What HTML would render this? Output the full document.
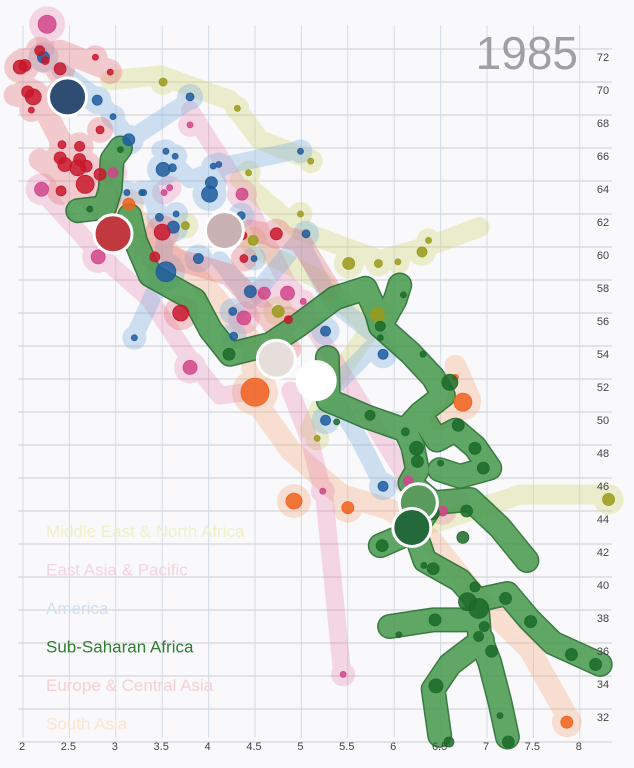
<!DOCTYPE html>
<html><head><meta charset="utf-8">
<style>
html,body{margin:0;padding:0;background:#f9f9fb;}
svg{display:block;font-family:"Liberation Sans",sans-serif;}
</style></head>
<body>
<svg id="chart" width="634" height="768" viewBox="0 0 634 768">
<rect width="634" height="768" fill="#f9f9fb"/>
<g id="grid"></g>
<g id="trails"></g>
<g id="dots"></g>
<g id="big"></g>
<g id="axes"></g>
<g id="legend"></g>
<text x="578" y="69" text-anchor="end" font-size="46" fill="#a0a0a0">1985</text>
</svg>
<script>
const xTicks=[2,2.5,3,3.5,4,4.5,5,5.5,6,6.5,7,7.5,8];
const yTicks=[32,34,36,38,40,42,44,46,48,50,52,54,56,58,60,62,64,66,68,70,72];
const yGrid=[30,32,34,36,38,40,42,44,46,48,50,52,54,56,58,60,62,64,66,68,70,72];
const regionNames=["Middle East & North Africa","East Asia & Pacific","America","Sub-Saharan Africa","Europe & Central Asia","South Asia"];
const regionColors=["#cfd36a","#e57aa6","#86b4dc","#2e8b3a","#e8787e","#f5a877"];
const legendColors=["#eef0c9","#f4d3df","#cddff0","#2e7d32","#f6d0d3","#fce4d0"];
const dotColors=["#9a9a1a","#d1458a","#1f5c9e","#1b6a28","#c8172c","#f0621f"];

const trailME=[[[2.94,70.1],[3.48,70.4],[4.23,68.9],[4.55,66.5],[5.09,65.3]],[[4.34,64.1],[4.98,61.0],[5.85,59.2],[6.39,60.1],[6.92,61.2]],[[4.55,59.8],[5.20,58.0],[5.74,55.0],[5.31,51.6],[5.09,48.9]],[[6.39,43.2],[7.36,45.0],[8.27,45.0]]];
const trailEA=[[[2.24,73.5],[2.24,71.9]],[[2.18,63.5],[2.83,59.5],[3.37,56.8],[3.80,53.2],[4.12,51.0],[4.55,51.3]],[[4.88,51.3],[5.09,48.3],[5.25,44.7],[5.36,38.6],[5.44,34.1]],[[3.80,68.3],[4.34,63.5],[4.88,57.4],[6.28,44.7],[6.71,44.7]]];
const trailAM=[[[2.40,70.7],[2.83,68.9],[3.15,66.5],[3.80,68.9]],[[3.48,65.9],[3.80,64.1],[4.23,65.0],[4.98,65.9]],[[3.37,63.5],[3.53,60.4],[3.48,58.0],[3.21,54.7]],[[4.12,59.2],[4.45,56.8],[4.98,60.4],[5.31,56.8],[5.85,54.4],[5.31,51.3],[5.63,48.3],[5.90,45.3]]];
const trailSSA=[[[2.59,62.2],[2.88,62.4],[2.94,63.5],[2.96,65.3],[3.05,66.0]],
[[3.15,61.9],[3.21,60.4],[3.37,58.3],[3.85,56.8],[4.02,55.0],[4.23,53.5],[4.66,54.1],[4.98,55.3],[5.36,56.9],[5.69,57.5],[5.81,56.0],[5.85,55.2],[6.17,53.6],[6.42,52.1],[6.53,51.0],[6.28,49.9],[6.12,48.9],[6.20,47.9],[6.25,46.5],[6.17,45.7]],
[[5.85,55.2],[6.01,56.8],[6.06,57.7]],
[[6.12,48.9],[5.71,49.7],[5.42,50.4],[5.29,50.7],[5.28,53.3]],
[[6.28,49.9],[6.46,48.3],[6.66,48.9],[6.87,47.9],[7.03,46.6],[6.71,46.1],[6.49,46.5]],
[[6.17,45.7],[6.42,44.5],[6.82,44.7],[7.14,43.0],[7.43,41.0]],
[[6.42,44.5],[6.22,42.8],[5.85,41.9]],
[[6.22,42.8],[6.33,41.0],[6.71,39.8],[6.89,38.6],[6.92,36.4],[7.03,34.8],[7.14,32.4],[7.22,30.3]],
[[6.89,38.6],[7.22,39.0],[7.46,37.4],[7.71,36.0],[8.22,34.7]],
[[6.85,37.4],[6.42,37.4],[5.95,37.0]],
[[6.95,36.2],[6.60,34.7],[6.42,33.2],[6.49,30.4]]];
const trailEU=[[[1.97,71.3],[2.40,71.9],[2.94,70.7]],[[1.91,69.2],[2.18,68.9],[2.40,66.5],[2.78,64.7],[2.94,62.8]],[[2.18,65.3],[2.61,63.5],[3.15,60.4],[3.69,59.2],[4.23,58.3],[4.66,55.6],[4.88,53.8]],[[4.45,61.0],[4.98,60.4],[5.31,57.4]]];
const trailSA=[[[3.10,62.5],[3.37,60.7],[3.91,58.0],[4.45,54.4],[4.50,50.7],[4.88,47.7],[5.42,45.0],[5.95,44.1],[6.39,42.3],[6.92,38.6],[7.46,35.6],[7.87,31.5]],[[6.66,52.8],[6.82,50.7],[6.49,49.5]]];

const dotsME=[[3.51,70.0,4],[4.31,68.4,3],[4.43,64.5,3],[5.10,65.2,3],[3.75,61.3,4],[4.48,60.4,5],[4.75,56.1,6],[4.99,62.0,3],[5.51,59.0,6],[5.83,59.0,4],[6.04,59.1,3],[6.30,59.7,5],[6.37,60.4,3],[8.31,44.7,6],[5.17,48.4,3],[5.82,55.9,7]];
const dotsEA=[[2.26,73.5,9],[2.20,63.5,7],[2.81,59.4,7],[2.97,64.5,5],[4.36,63.2,6],[4.60,57.2,6],[3.80,52.7,7],[5.02,56.7,3],[4.38,55.7,7],[3.52,63.3,3],[3.80,67.4,3],[5.23,45.2,3],[5.45,34.1,3],[4.85,57.2,7],[3.58,63.6,3],[6.52,44.0,5],[6.15,45.8,5]];
const dotsAM=[[2.22,71.5,6],[2.80,68.9,5],[3.14,66.5,6],[2.97,67.9,3],[3.51,64.7,7],[3.54,65.8,3],[3.64,65.5,3],[3.61,64.8,4],[4.05,64.9,3],[4.11,65.0,3],[4.03,63.9,6],[4.01,63.2,8],[3.62,61.2,6],[3.54,58.5,10],[3.89,59.3,5],[4.35,61.9,4],[4.27,54.6,4],[4.45,57.3,6],[4.99,65.8,3],[3.20,54.5,3],[3.80,69.1,4],[3.30,63.3,3],[5.26,54.9,5],[5.88,53.5,5],[5.26,49.5,5],[5.88,45.5,5],[5.05,60.8,4],[4.49,59.3,3],[3.47,61.8,4],[3.65,62.0,3],[3.12,63.3,3],[3.28,63.3,3],[4.26,56.1,4]];
const dotsSSA=[[3.05,65.9,3],[2.72,62.3,3],[4.22,53.5,6],[6.10,57.1,3],[5.85,55.2,5],[5.85,54.5,3],[6.31,53.5,3],[6.60,51.8,8],[5.74,49.8,5],[5.38,49.4,3],[6.12,48.8,4],[6.24,47.8,7],[6.25,47.0,6],[6.50,46.9,3],[6.69,49.2,6],[6.87,47.8,6],[6.96,46.6,6],[6.41,43.9,7],[6.78,44.0,6],[6.74,42.4,6],[5.87,41.9,6],[6.42,40.5,6],[6.32,40.7,3],[6.87,39.4,5],[6.79,38.5,9],[6.91,38.1,10],[7.20,38.7,6],[6.44,37.4,6],[6.05,36.5,3],[6.97,37.0,5],[6.91,36.4,5],[7.05,35.5,6],[7.47,37.3,6],[7.91,35.3,6],[8.17,34.7,6],[6.45,33.4,7],[7.14,31.6,3],[7.23,30.0,6],[6.59,30.0,5]];
const dotsEU=[[1.97,70.9,7],[2.18,71.9,5],[2.11,69.1,8],[2.05,69.4,6],[2.40,70.8,6],[2.38,69.2,5],[2.40,65.4,6],[2.45,65.0,7],[2.61,65.3,6],[2.59,64.8,8],[2.68,64.9,6],[2.67,63.8,9],[2.83,64.4,6],[2.83,67.1,4],[2.78,71.5,3],[2.94,70.6,3],[2.61,66.1,5],[2.41,63.4,5],[2.24,71.3,4],[2.02,71.0,6],[3.50,60.9,8],[3.70,56.0,8],[3.42,59.4,5],[4.37,60.7,4],[4.73,60.8,6],[4.38,59.3,4],[4.86,55.6,4],[2.42,66.2,4],[2.09,68.3,3]];
const dotsSA=[[3.14,62.6,6],[4.50,51.2,14],[4.92,44.6,8],[5.50,44.2,6],[6.74,50.6,9],[6.66,52.1,3],[7.86,31.2,6]];
const bigX=[2.48,2.97,4.17,4.73,5.16,6.26,6.19];
const bigY=[69.1,60.8,61.0,53.2,51.9,44.5,43.0];
const bigFill=["#2f4c72","#c0393f","#c9b2b3","#e6dedb","#ffffff","#5a9a5c","#23693a"];

const NS="http://www.w3.org/2000/svg";
function X(v){return 23+(v-2)*92.8;}
function Y(v){return 49+(72-v)*16.5;}
function mk(tag,attrs,parent){const e=document.createElementNS(NS,tag);for(const k in attrs)e.setAttribute(k,attrs[k]);parent.appendChild(e);return e;}
const grid=document.getElementById('grid');
xTicks.forEach(t=>{const l=mk('line',{x1:X(t),x2:X(t),y1:25,y2:738,stroke:'#d3dde8','stroke-width':1},grid);

});
yGrid.forEach(t=>{const l=mk('line',{x1:18,x2:612,y1:Y(t),y2:Y(t),stroke:'#d6d6db','stroke-width':1.3},grid);

});
const axes=document.getElementById('axes');
xTicks.forEach(t=>{const e=mk('text',{x:X(t)-1,y:750,'text-anchor':'middle','font-size':11,fill:'#444'},axes);e.textContent=String(t);

});
yTicks.forEach(t=>{const e=mk('text',{x:603,y:Y(t)+12,'text-anchor':'middle','font-size':11,fill:'#444'},axes);e.textContent=String(t);

});
const trails=document.getElementById('trails');
function trailGroup(paths,pts,color,w,op,name,outline){
  const g=mk('g',{opacity:op},trails);
  
  
  const passes=outline?[[outline,w+3],[color,w]]:[[color,w]];
  passes.forEach(([c,sw])=>{
    paths.forEach(p=>{const pl=mk('polyline',{points:p.map(q=>X(q[0])+','+Y(q[1])).join(' '),fill:'none',stroke:c,'stroke-width':sw,'stroke-linecap':'round','stroke-linejoin':'round'},g);
    
    });
    if(!outline){pts.forEach(d=>{const h=mk('circle',{cx:X(d[0]),cy:Y(d[1]),r:d[2]+9,fill:c},g);
    
    });}
  });
}
trailGroup(trailME,dotsME,regionColors[0],20,0.32,'trail-middle-east');
trailGroup(trailSA,dotsSA,regionColors[5],22,0.32,'trail-south-asia');
trailGroup(trailEA,dotsEA,regionColors[1],18,0.28,'trail-east-asia');
trailGroup(trailAM,dotsAM,regionColors[2],18,0.38,'trail-america');
trailGroup(trailEU,dotsEU,regionColors[4],22,0.36,'trail-europe');
trailGroup(trailSSA,dotsSSA,'#4b9c52',22,0.88,'trail-sub-saharan-africa','#1f6a29');
const dots=document.getElementById('dots');
[[dotsME,0],[dotsEA,1],[dotsAM,2],[dotsSA,5],[dotsEU,4],[dotsSSA,3]].forEach(([arr,i])=>{
  arr.forEach(d=>{const c=mk('circle',{cx:X(d[0]),cy:Y(d[1]),r:d[2],fill:dotColors[i],'fill-opacity':0.85,stroke:dotColors[i],'stroke-width':0.8},dots);
  
  });
});
const big=document.getElementById('big');
bigX.forEach((x,i)=>{const c=mk('circle',{cx:X(x),cy:Y(bigY[i]),r:19,fill:bigFill[i],stroke:'#ffffff','stroke-width':3},big);

});
const legend=document.getElementById('legend');
regionNames.forEach((n,i)=>{const e=mk('text',{x:46,y:537+i*38.5,'font-size':17,fill:legendColors[i]},legend);e.textContent=n;

});
</script>
</body></html>
